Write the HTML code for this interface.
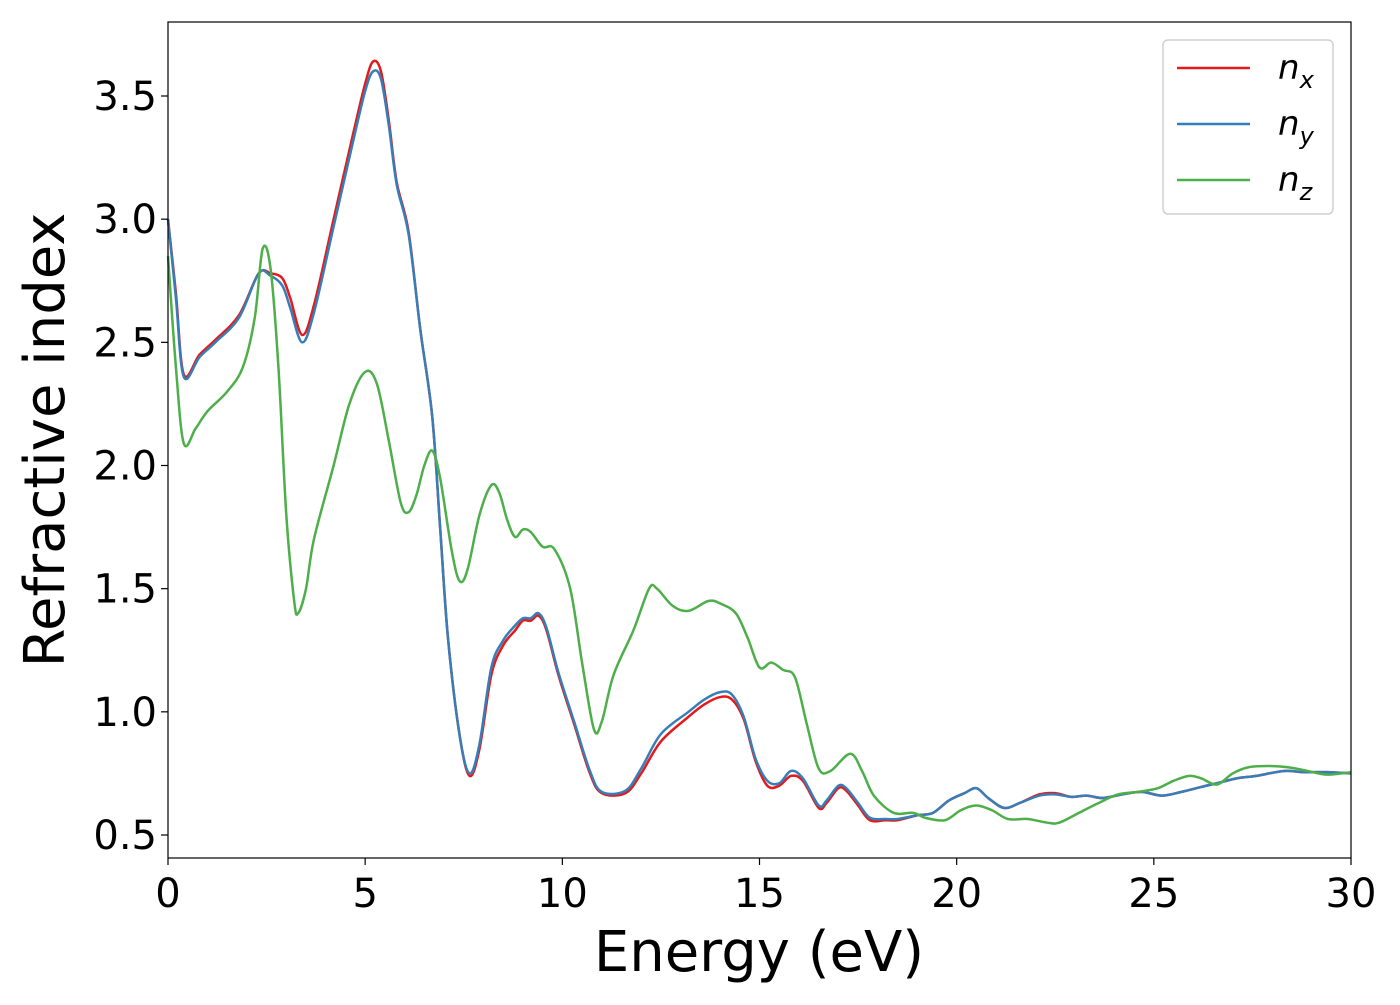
<!DOCTYPE html>
<html><head><meta charset="utf-8"><style>
body{margin:0;background:#fff}
text{font-family:"DejaVu Sans","Liberation Sans",sans-serif}
</style></head><body>
<svg id="chart" width="1400" height="1000" xmlns="http://www.w3.org/2000/svg">
<g id="plot"></g>
</svg>
<script>
const xTicks=[0,5,10,15,20,25,30];
const yTicks=[0.5,1.0,1.5,2.0,2.5,3.0,3.5];
const yTickLabels=["0.5","1.0","1.5","2.0","2.5","3.0","3.5"];
const nxE=[0,0.2,0.4,0.8,1.2,1.8,2.3,2.6,2.9,3.1,3.4,3.7,4.2,4.7,5.0,5.2,5.4,5.6,5.8,6.1,6.4,6.7,6.9,7.1,7.4,7.65,7.9,8.2,8.5,8.8,9.0,9.2,9.4,9.6,9.9,10.3,10.7,11.0,11.6,12.0,12.5,13.2,13.6,14.0,14.3,14.6,14.9,15.2,15.5,15.8,16.1,16.5,16.7,17.0,17.2,17.5,17.8,18.2,18.5,19.0,19.4,19.8,20.2,20.5,20.8,21.2,21.6,22.1,22.5,22.9,23.3,23.7,24.2,24.7,25.2,25.7,26.2,26.6,27.1,27.6,28.3,28.8,29.4,30];
const nxV=[3.0,2.7,2.37,2.45,2.51,2.61,2.78,2.78,2.76,2.68,2.53,2.65,3.0,3.35,3.55,3.64,3.6,3.4,3.15,2.95,2.55,2.2,1.75,1.3,0.9,0.74,0.85,1.15,1.27,1.33,1.37,1.37,1.39,1.33,1.15,0.95,0.75,0.67,0.67,0.75,0.88,0.98,1.03,1.06,1.05,0.97,0.8,0.7,0.70,0.74,0.72,0.61,0.63,0.69,0.68,0.62,0.56,0.56,0.56,0.58,0.59,0.64,0.67,0.69,0.65,0.61,0.63,0.665,0.67,0.655,0.66,0.65,0.665,0.675,0.66,0.675,0.695,0.71,0.73,0.74,0.76,0.755,0.755,0.75];
const nyE=nxE;
const nyV=[3.0,2.68,2.36,2.44,2.50,2.60,2.78,2.77,2.73,2.64,2.50,2.62,2.97,3.32,3.52,3.60,3.57,3.38,3.14,2.94,2.55,2.2,1.75,1.3,0.9,0.75,0.87,1.18,1.29,1.35,1.38,1.38,1.40,1.34,1.16,0.96,0.76,0.675,0.68,0.77,0.91,1.0,1.05,1.08,1.07,0.98,0.81,0.72,0.71,0.76,0.73,0.62,0.64,0.70,0.69,0.63,0.57,0.565,0.565,0.58,0.59,0.64,0.67,0.69,0.65,0.61,0.63,0.66,0.665,0.655,0.66,0.65,0.665,0.675,0.66,0.675,0.695,0.71,0.73,0.74,0.76,0.755,0.755,0.75];
const nzE=[0,0.2,0.4,0.7,1.0,1.5,1.9,2.2,2.4,2.6,2.8,3.0,3.2,3.3,3.5,3.7,4.2,4.6,5.0,5.3,5.6,5.9,6.1,6.3,6.5,6.7,6.9,7.2,7.4,7.6,7.9,8.2,8.4,8.6,8.8,9.0,9.2,9.5,9.8,10.2,10.5,10.8,11.0,11.3,11.8,12.2,12.4,12.8,13.2,13.7,14.0,14.4,14.7,15.0,15.3,15.6,15.9,16.2,16.5,16.8,17.3,17.6,17.9,18.4,18.9,19.2,19.7,20.1,20.5,20.9,21.3,21.8,22.3,22.6,23.1,23.6,24.1,24.6,25.1,25.5,25.9,26.2,26.6,27.0,27.4,27.9,28.4,28.9,29.4,30];
const nzV=[2.85,2.4,2.09,2.15,2.22,2.3,2.4,2.6,2.88,2.8,2.4,1.8,1.45,1.40,1.5,1.7,2.0,2.25,2.38,2.33,2.1,1.85,1.81,1.88,2.0,2.06,1.95,1.65,1.53,1.58,1.8,1.92,1.89,1.78,1.71,1.74,1.73,1.67,1.66,1.5,1.2,0.93,0.96,1.15,1.33,1.50,1.5,1.43,1.41,1.45,1.44,1.40,1.3,1.18,1.2,1.17,1.14,0.95,0.77,0.76,0.83,0.76,0.66,0.59,0.59,0.57,0.56,0.60,0.62,0.60,0.565,0.565,0.55,0.55,0.59,0.63,0.665,0.675,0.69,0.72,0.74,0.73,0.705,0.75,0.775,0.78,0.775,0.76,0.745,0.755];

const L=168,R=1351,T=22,B=858;
const xs=e=>L+(e-0)/30*(R-L);
const ys=v=>835-(v-0.5)/3.0*(835-96);
const NS="http://www.w3.org/2000/svg";
const g=document.getElementById('plot');
function mk(t,a){const el=document.createElementNS(NS,t);for(const k in a)el.setAttribute(k,a[k]);g.appendChild(el);return el;}
function path(E,V){const p=E.map((e,i)=>[xs(e),ys(V[i])]);let d="M"+p[0][0]+","+p[0][1];
for(let i=0;i<p.length-1;i++){const p0=p[Math.max(0,i-1)],p1=p[i],p2=p[i+1],p3=p[Math.min(p.length-1,i+2)];
d+=" C"+(p1[0]+(p2[0]-p0[0])/6)+","+(p1[1]+(p2[1]-p0[1])/6)+" "+(p2[0]-(p3[0]-p1[0])/6)+","+(p2[1]-(p3[1]-p1[1])/6)+" "+p2[0]+","+p2[1];}return d;}
const series=[["nx",nxE,nxV,"#e41a1c"],["ny",nyE,nyV,"#377eb8"],["nz",nzE,nzV,"#4daf4a"]];
series.forEach(s=>{const el=mk('path',{d:path(s[1],s[2]),fill:'none',stroke:s[3],'stroke-width':2.5});

});
const fr=mk('rect',{x:L,y:T,width:R-L,height:B-T,fill:'none',stroke:'#000','stroke-width':1.2});


xTicks.forEach(t=>{const x=xs(t);mk('line',{x1:x,x2:x,y1:B,y2:B+7,stroke:'#000','stroke-width':1.2});
const tx=mk('text',{x:x,y:907,'font-size':40,'text-anchor':'middle'});tx.textContent=t;

});
yTicks.forEach((t,i)=>{const y=ys(t);mk('line',{x1:L-7,x2:L,y1:y,y2:y,stroke:'#000','stroke-width':1.2});
const tx=mk('text',{x:157,y:y+14,'font-size':40,'text-anchor':'end'});tx.textContent=yTickLabels[i];

});
const xt=mk('text',{x:759,y:971,'font-size':56,'text-anchor':'middle'});xt.textContent="Energy (eV)";


const yt=mk('text',{x:0,y:0,'font-size':56,'text-anchor':'middle',transform:'translate(64,440) rotate(-90)'});yt.textContent="Refractive index";


const lg=mk('rect',{x:1163,y:40,width:170,height:174,rx:5,fill:'#fff',stroke:'#d0d0d0','stroke-width':1.5});


const subs=["x","y","z"];
series.forEach((s,i)=>{const y=68+i*56;mk('line',{x1:1177,x2:1250,y1:y,y2:y,stroke:s[3],'stroke-width':2.5});
const t=mk('text',{x:1278,y:y+11,'font-size':34,'font-style':'italic'});
t.innerHTML='n<tspan font-size="24" dy="9">'+subs[i]+'</tspan>';

});
</script>
</body></html>
